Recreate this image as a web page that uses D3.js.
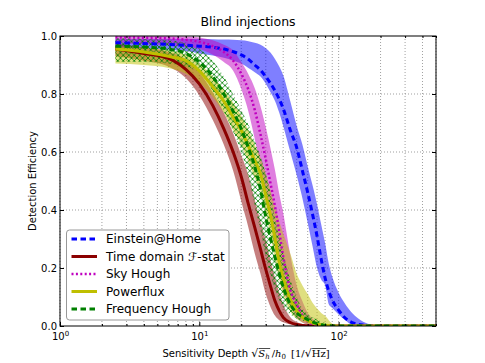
<!DOCTYPE html>
<html>
<head>
<meta charset="utf-8">
<script src="https://cdnjs.cloudflare.com/ajax/libs/d3/7.8.5/d3.min.js"></script>
<style>
    body { margin: 0; background: #fff; }
    svg { font-family: "DejaVu Sans", sans-serif; }
</style>
</head>
<body>
<div id="chart"></div>
<script>
// sensitivity depth samples (shared by every curve)
var depths = [2.5, 4, 6, 8, 10, 12.5, 15, 17.5, 20, 22.5, 25, 27.5, 30, 32.5, 35, 37.5, 40, 45, 50, 55,
              60, 65, 70, 75, 80, 85, 90, 100, 110, 125, 150, 175, 200, 300, 500];

// Einstein@Home
var eahMean = [.977, .974, .971, .968, .965, .961, .955, .946, .935, .92, .90, .882, .86, .836, .81, .782, .75, .675, .615, .535,
               .46, .385, .31, .23, .165, .12, .09, .055, .03, .012, .003, .001, 0, 0, 0];
var eahHi   = [.99, .99, .99, .99, .99, .989, .988, .987, .985, .982, .977, .97, .958, .942, .92, .895, .865, .775, .69, .625,
               .55, .485, .42, .35, .285, .215, .17, .115, .08, .045, .015, .004, 0, 0, 0];
var eahLo   = [.96, .957, .953, .948, .94, .933, .925, .915, .905, .89, .875, .86, .835, .805, .775, .735, .69, .60, .52, .44,
               .355, .275, .20, .16, .14, .075, .062, .04, .022, .004, 0, 0, 0, 0, 0];

// Time domain F-stat
var tdMean = [.955, .94, .923, .885, .835, .76, .68, .60, .515, .42, .34, .265, .195, .136, .085, .052, .03, .012, .005, .002,
              .001, 0, 0, 0, 0, 0, 0, 0, 0, 0, 0, 0, 0, 0, 0];
var tdHi   = [.975, .96, .945, .92, .875, .805, .735, .665, .59, .52, .435, .36, .295, .225, .165, .115, .075, .03, .014, .007,
              .004, .002, 0, 0, 0, 0, 0, 0, 0, 0, 0, 0, 0, 0, 0];
var tdLo   = [.93, .915, .895, .855, .795, .71, .625, .535, .43, .34, .25, .18, .11, .065, .035, .02, .013, .005, .002, .001,
              0, 0, 0, 0, 0, 0, 0, 0, 0, 0, 0, 0, 0, 0, 0];

// Sky Hough
var shMean = [.995, .994, .992, .987, .98, .965, .945, .915, .87, .815, .745, .66, .575, .49, .41, .325, .24, .125, .075, .035,
              .015, .007, .003, .001, 0, 0, 0, 0, 0, 0, 0, 0, 0, 0, 0];
var shHi   = [1, 1, 1, .998, .995, .985, .97, .95, .91, .868, .82, .757, .685, .61, .535, .455, .39, .245, .14, .085,
              .045, .025, .012, .006, .002, 0, 0, 0, 0, 0, 0, 0, 0, 0, 0];
var shLo   = [.975, .972, .968, .962, .955, .935, .91, .88, .817, .74, .645, .55, .455, .365, .27, .20, .13, .07, .03, .012,
              .004, .001, 0, 0, 0, 0, 0, 0, 0, 0, 0, 0, 0, 0, 0];

// Powerflux
var pfMean = [.955, .945, .93, .915, .88, .825, .775, .72, .675, .62, .57, .525, .45, .38, .30, .22, .165, .09, .052, .03,
              .018, .011, .006, .004, .002, .001, 0, 0, 0, 0, 0, 0, 0, 0, 0];
var pfHi   = [.965, .96, .95, .935, .905, .86, .815, .77, .725, .675, .625, .58, .525, .465, .41, .36, .32, .25, .18, .14,
              .11, .08, .06, .045, .035, .02, .008, 0, 0, 0, 0, 0, 0, 0, 0];
var pfLo   = [.905, .90, .89, .87, .84, .79, .735, .675, .625, .565, .51, .465, .39, .31, .23, .16, .11, .05, .025, .012,
              .006, .004, .002, .001, 0, 0, 0, 0, 0, 0, 0, 0, 0, 0, 0];

// Frequency Hough
var fhMean = [.965, .962, .955, .94, .91, .86, .80, .74, .68, .615, .55, .47, .375, .30, .235, .18, .135, .075, .045, .032,
              .022, .014, .008, .004, .002, .001, 0, 0, 0, 0, 0, 0, 0, 0, 0];
var fhHi   = [.992, .99, .985, .975, .955, .915, .86, .80, .745, .695, .64, .585, .525, .455, .37, .305, .25, .16, .10, .06,
              .042, .03, .022, .015, .01, .006, .004, .001, 0, 0, 0, 0, 0, 0, 0];
var fhLo   = [.91, .91, .905, .895, .875, .81, .74, .67, .60, .515, .415, .33, .24, .175, .125, .09, .065, .04, .026, .018,
              .012, .008, .004, .002, 0, 0, 0, 0, 0, 0, 0, 0, 0, 0, 0];

var seriesNames = ["Einstein@Home", "Time domain \u2131-stat", "Sky Hough", "Powerflux", "Frequency Hough"];

var series = [
    { name: seriesNames[0], mean: eahMean, lo: eahLo, hi: eahHi, color: "#0000ff", dash: "5.5,3.5", width: 3, band: "fill" },
    { name: seriesNames[1], mean: tdMean, lo: tdLo, hi: tdHi, color: "#8b0000", dash: null, width: 3, band: "fill" },
    { name: seriesNames[2], mean: shMean, lo: shLo, hi: shHi, color: "#bf00bf", dash: "2,2.4", width: 2.5, band: "fill" },
    { name: seriesNames[3], mean: pfMean, lo: pfLo, hi: pfHi, color: "#bfbf00", dash: null, width: 3, band: "fill" },
    { name: seriesNames[4], mean: fhMean, lo: fhLo, hi: fhHi, color: "#008000", dash: "5.5,3.5", width: 3, band: "hatch" }
];

// set the dimensions and margins of the graph
var margin = { top: 36, right: 49, bottom: 37, left: 60 },
    width = 485 - margin.left - margin.right,
    height = 363 - margin.top - margin.bottom;

var root = d3.select("#chart")
    .append("svg")
    .attr("width", 485)
    .attr("height", 363);

var defs = root.append("defs");
defs.append("clipPath").attr("id", "plotClip")
    .append("rect").attr("width", width).attr("height", height);
var hatch = defs.append("pattern")
    .attr("id", "hatch")
    .attr("patternUnits", "userSpaceOnUse")
    .attr("width", 5.5).attr("height", 5.5);
hatch.append("path")
    .attr("d", "M0,0L5.5,5.5M5.5,0L0,5.5M-1,4.5L1,6.5M4.5,-1L6.5,1M-1,1L1,-1M4.5,6.5L6.5,4.5")
    .attr("stroke", "#008000")
    .attr("stroke-width", 0.8)
    .attr("fill", "none");

var svg = root.append("g")
    .attr("transform", "translate(" + margin.left + "," + margin.top + ")");

var x = d3.scaleLog().domain([1, 500]).range([0, width]);
var y = d3.scaleLinear().domain([0, 1]).range([height, 0]);

var yTicks = [0, 0.2, 0.4, 0.6, 0.8, 1.0];
var xMajor = [1, 10, 100];
var xAll = x.ticks();
var xMinor = xAll.filter(function (d) { return xMajor.indexOf(d) < 0; });

// dotted grid
var grid = svg.append("g")
    .attr("stroke", "#777")
    .attr("stroke-width", 0.7)
    .attr("stroke-dasharray", "1,2");
grid.selectAll(".gx").data(xAll).enter().append("line")
    .attr("x1", function (d) { return x(d); })
    .attr("x2", function (d) { return x(d); })
    .attr("y1", 0).attr("y2", height);
grid.selectAll(".gy").data(yTicks.slice(1, 5)).enter().append("line")
    .attr("x1", 0).attr("x2", width)
    .attr("y1", function (d) { return y(d); })
    .attr("y2", function (d) { return y(d); });

// bands and curves
var plot = svg.append("g").attr("clip-path", "url(#plotClip)");

var area = function (s) {
    return d3.area()
        .x(function (d, i) { return x(depths[i]); })
        .y0(function (d, i) { return y(s.lo[i]); })
        .y1(function (d, i) { return y(s.hi[i]); });
};
var line = function (s) {
    return d3.line()
        .x(function (d, i) { return x(depths[i]); })
        .y(function (d) { return y(d); })
        .curve(d3.curveMonotoneX);
};

series.forEach(function (s) {
    plot.append("path")
        .attr("d", area(s).curve(d3.curveMonotoneX)(depths))
        .attr("fill", s.band === "hatch" ? "url(#hatch)" : s.color)
        .attr("fill-opacity", s.band === "hatch" ? 1 : 0.5)
        .attr("stroke", "none");
});
series.forEach(function (s) {
    plot.append("path")
        .attr("d", line(s)(s.mean))
        .attr("fill", "none")
        .attr("stroke", s.color)
        .attr("stroke-width", s.width)
        .attr("stroke-dasharray", s.dash);
});

// axes (ticks pointing inwards on all four sides)
var gx = svg.append("g")
    .attr("transform", "translate(0," + height + ")")
    .call(d3.axisBottom(x).tickValues(xMajor).tickSize(-4).tickPadding(6.5).tickFormat(""));
gx.selectAll(".tick text").each(function (d) {
    var t = d3.select(this);
    t.append("tspan").text("10");
    t.append("tspan").attr("dy", "-0.5em").attr("font-size", "7px")
        .text(Math.round(Math.log10(d)));
});
svg.append("g")
    .attr("transform", "translate(0," + height + ")")
    .call(d3.axisBottom(x).tickValues(xMinor).tickSize(-2).tickFormat(""));
svg.append("g")
    .call(d3.axisTop(x).tickValues(xMajor).tickSize(-4).tickFormat(""));
svg.append("g")
    .call(d3.axisTop(x).tickValues(xMinor).tickSize(-2).tickFormat(""));
svg.append("g")
    .call(d3.axisLeft(y).tickValues(yTicks).tickSize(-4).tickPadding(3).tickFormat(d3.format(".1f")));
svg.append("g")
    .attr("transform", "translate(" + width + ",0)")
    .call(d3.axisRight(y).tickValues(yTicks).tickSize(-4).tickFormat(""));

svg.selectAll(".domain").remove();
svg.selectAll(".tick text")
    .attr("font-family", "DejaVu Sans, sans-serif")
    .attr("font-size", 10)
    .attr("fill", "#000");

svg.append("rect")
    .attr("width", width).attr("height", height)
    .attr("fill", "none").attr("stroke", "#000").attr("stroke-width", 1);

// title and axis labels
svg.append("text")
    .attr("x", width / 2)
    .attr("y", 26 - margin.top)
    .attr("text-anchor", "middle")
    .attr("font-size", 12.5)
    .text("Blind injections");

svg.append("text")
    .attr("transform", "translate(" + (36 - margin.left) + "," + (181 - margin.top) + ")rotate(-90)")
    .attr("text-anchor", "middle")
    .attr("font-size", 10)
    .text("Detection Efficiency");

var xl = svg.append("text")
    .attr("x", 246 - margin.left)
    .attr("y", 357 - margin.top)
    .attr("text-anchor", "middle")
    .attr("font-size", 10);
xl.append("tspan").text("Sensitivity Depth ");
var m = "DejaVu Serif, serif";
var r1 = xl.append("tspan").attr("font-family", m).attr("font-size", 11).text("\u221A");
var sh = xl.append("tspan").attr("font-family", m).attr("font-style", "italic").text("S");
var sh2 = xl.append("tspan").attr("font-family", m).attr("font-style", "italic").attr("font-size", 7).attr("dy", 2).text("h");
xl.append("tspan").attr("font-family", m).attr("dy", -2).text("\u2009/");
xl.append("tspan").attr("font-family", m).attr("font-style", "italic").text("h");
xl.append("tspan").attr("font-family", m).attr("font-size", 7).attr("dy", 2).text("0");
xl.append("tspan").attr("font-family", m).attr("dy", -2).text("\u2002[1/");
var r2 = xl.append("tspan").attr("font-family", m).attr("font-size", 11).text("\u221A");
var hz = xl.append("tspan").attr("font-family", m).text("Hz");
xl.append("tspan").attr("font-family", m).text("]");

// radical overbars
[[r1, sh2], [r2, hz]].forEach(function (p) {
    var a = p[0].node().getBBox(), b = p[1].node().getBBox();
    svg.append("line")
        .attr("x1", a.x + a.width - 0.5).attr("x2", b.x + b.width + 0.5)
        .attr("y1", a.y + 1.5).attr("y2", a.y + 1.5)
        .attr("stroke", "#000").attr("stroke-width", 0.7);
});

// legend
var lg = svg.append("g").attr("transform", "translate(" + (66.5 - margin.left) + "," + (230 - margin.top) + ")");
lg.append("rect")
    .attr("width", 162.5).attr("height", 90)
    .attr("rx", 3)
    .attr("fill", "#fff")
    .attr("stroke", "#999");
series.forEach(function (s, i) {
    var ly = 9 + i * 17.5;
    lg.append("line")
        .attr("x1", 5).attr("x2", 30.5)
        .attr("y1", ly).attr("y2", ly)
        .attr("stroke", s.color)
        .attr("stroke-width", s.width)
        .attr("stroke-dasharray", s.dash);
    lg.append("text")
        .attr("x", 39.5).attr("y", ly)
        .attr("dy", "0.36em")
        .attr("font-size", 12)
        .text(s.name);
});
</script>
</body>
</html>
